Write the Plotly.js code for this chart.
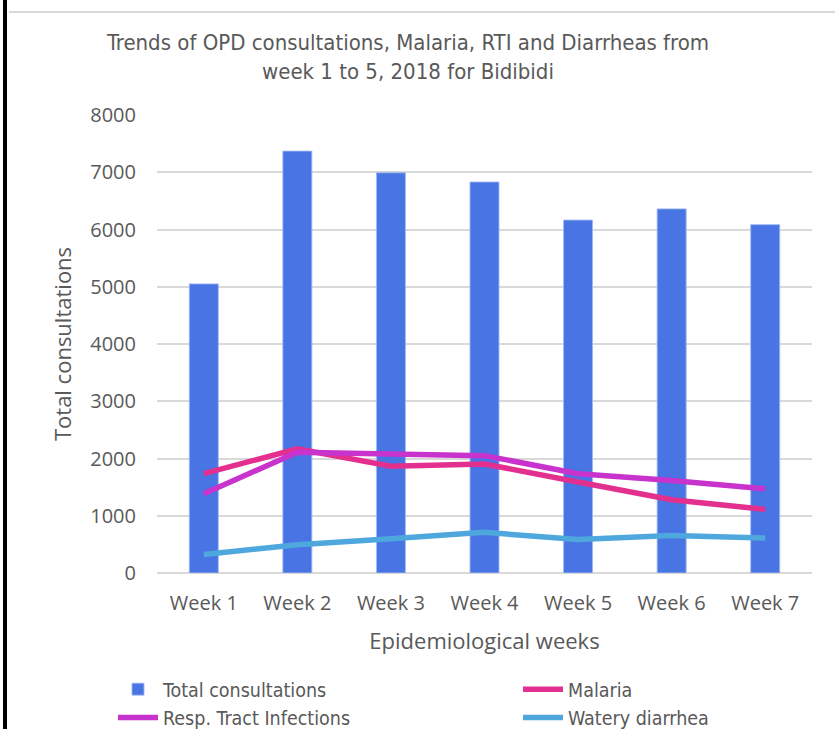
<!DOCTYPE html>
<html>
<head>
<meta charset="utf-8">
<script src="https://cdn.plot.ly/plotly-3.0.1.min.js"></script>
<style>html,body{margin:0;padding:0;background:#fff;}#chart{width:835px;height:729px;}</style>
</head>
<body>
<div id="chart"></div>
<script>
const weeks = ["Week 1","Week 2","Week 3","Week 4","Week 5","Week 6","Week 7"];
const totalConsultations = [5050, 7370, 6990, 6830, 6165, 6360, 6085];
const malaria = [1735, 2170, 1865, 1905, 1590, 1280, 1110];
const rti = [1385, 2110, 2080, 2050, 1735, 1615, 1470];
const wateryDiarrhea = [325, 495, 600, 710, 585, 655, 610];

const L = 157, W = 655, T = 115, H = 458;
function px(p){ return (p - L) / W; }
function py(q){ return (T + H - q) / H; }

const narrow = "'Liberation Sans Narrow', 'Arial Narrow', 'DejaVu Sans Condensed', sans-serif";
const sans = "'Open Sans', Lato, sans-serif";
const grey = "#595959";

const traces = [
  {type:'bar', name:'Total consultations', x:weeks, y:totalConsultations,
   marker:{color:'#4874E4', line:{color:'rgba(160,185,245,0.9)', width:1}}},
  {type:'scatter', mode:'lines', name:'Malaria', x:weeks, y:malaria,
   line:{color:'#E3308F', width:5.5}},
  {type:'scatter', mode:'lines', name:'Resp. Tract Infections', x:weeks, y:rti,
   line:{color:'#C832CD', width:5.5}},
  {type:'scatter', mode:'lines', name:'Watery diarrhea', x:weeks, y:wateryDiarrhea,
   line:{color:'#4EA8DE', width:5.5}}
];

const layout = {
  width:835, height:729,
  margin:{l:L, r:835-L-W, t:T, b:729-T-H, autoexpand:false},
  paper_bgcolor:'#fff', plot_bgcolor:'#fff',
  bargap:0.69,
  showlegend:true,
  title:{text:'Trends of OPD consultations, Malaria, RTI and Diarrheas from<br>week 1 to 5, 2018 for Bidibidi',
         font:{family:narrow, size:22, color:grey},
         xref:'container', x:408/835, xanchor:'center',
         yref:'container', y:1-50/729, yanchor:'middle'},
  xaxis:{type:'category', showgrid:false, zeroline:false, showline:false,
         tickfont:{family:sans, size:20, color:grey}, ticks:'', ticklabelstandoff:16,
         title:{text:'Epidemiological weeks', font:{family:sans, size:22, color:grey}, standoff:18},
         automargin:false},
  yaxis:{range:[0,8000], dtick:1000, showgrid:true, gridcolor:'#d9d9d9', gridwidth:1.5,
         zeroline:true, zerolinecolor:'#d9d9d9', zerolinewidth:1.5, showline:false,
         tickfont:{family:sans, size:20, color:grey}, ticks:'', ticklabelstandoff:20,
         title:{text:'Total consultations', font:{family:sans, size:22, color:grey}, standoff:12},
         automargin:false},
  legend:{orientation:'h', xref:'paper', yref:'paper', x:px(113), xanchor:'left',
          y:py(670), yanchor:'top', font:{family:narrow, size:19.5, color:grey},
          entrywidth:350, entrywidthmode:'pixels', traceorder:'normal', itemwidth:40,
          tracegroupgap:0, bgcolor:'rgba(0,0,0,0)'},
  shapes:[
    {type:'line', xref:'paper', yref:'paper', x0:px(5), x1:px(5), y0:py(0), y1:py(729),
     line:{color:'#000', width:4}},
    {type:'line', xref:'paper', yref:'paper', x0:px(9), x1:px(835), y0:py(12), y1:py(12),
     line:{color:'#d9d9d9', width:2}}
  ]
};

Plotly.newPlot('chart', traces, layout, {displayModeBar:false, responsive:false});
</script>
</body>
</html>
